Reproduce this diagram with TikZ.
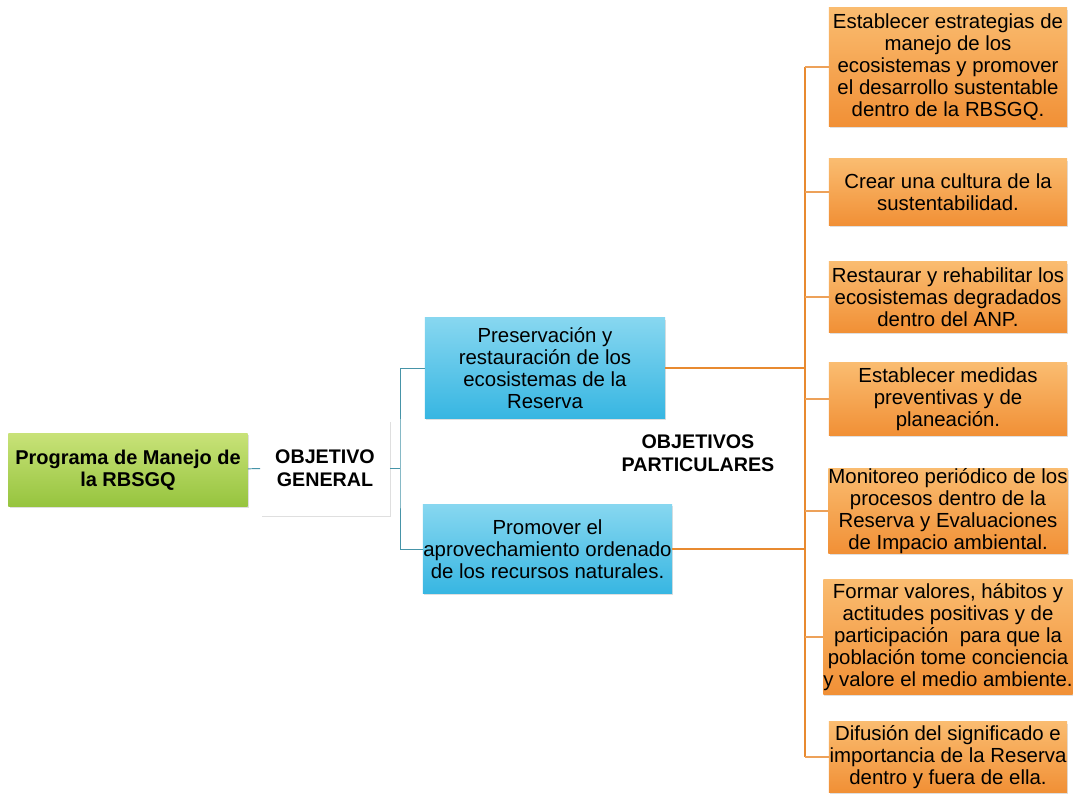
\documentclass[tikz,border=0pt]{standalone}
\usepackage{fontspec}
\setmainfont{Liberation Sans}
\usetikzlibrary{shadows}

\definecolor{verdeclaro}{RGB}{200,226,120}
\definecolor{verdeoscuro}{RGB}{150,196,62}
\definecolor{azulclaro}{RGB}{135,215,240}
\definecolor{azuloscuro}{RGB}{55,182,226}
\definecolor{naranjaclaro}{RGB}{250,188,112}
\definecolor{naranjaoscuro}{RGB}{241,144,54}
\definecolor{lineaazul}{RGB}{70,148,168}
\definecolor{lineanaranja}{RGB}{232,138,48}

\tikzset{
    caja/.style={align=center, inner sep=0pt,
        font=\fontsize{14.5}{15.6}\selectfont,
        drop shadow={opacity=0.25, shadow xshift=0.8pt, shadow yshift=-1.2pt}},
    programa/.style={caja, top color=verdeclaro, bottom color=verdeoscuro,
        minimum width=5.975cm, minimum height=1.825cm,
        font=\fontsize{14.2}{16}\selectfont\bfseries},
    general/.style={caja, fill=white, minimum width=3.225cm, minimum height=2.375cm,
        font=\fontsize{14}{16.4}\selectfont\bfseries},
    objetivo/.style={caja, top color=azulclaro, bottom color=azuloscuro},
    particular/.style={caja, top color=naranjaclaro, bottom color=naranjaoscuro,
        minimum width=5.95cm},
    lineagen/.style={draw=lineaazul, line width=0.7pt},
    lineagruesa/.style={draw=lineanaranja, line width=1.9pt},
    lineabus/.style={draw=lineanaranja, line width=1.4pt},
    linearama/.style={draw=lineanaranja!80, line width=0.8pt}
}

\begin{document}
\begin{tikzpicture}[x=0.025cm, y=-0.025cm]
                \fill[white] (0, 0) rectangle (1073, 795);

                \useasboundingbox (0, 0) rectangle (1073, 795);

                \node[programa] (prog) at (128, 470) {Programa de Manejo de\\la RBSGQ};

                \node[general] (gen) at (325, 468) {OBJETIVO\\GENERAL};

                \node[objetivo, minimum width=6cm, minimum height=2.5cm] (pres) at (545, 368) {Preservación y\\restauración de los\\ecosistemas de la\\Reserva};

                \node[objetivo, minimum width=6.225cm, minimum height=2.225cm] (prom) at (547.5, 549) {Promover el\\aprovechamiento ordenado\\de los recursos naturales.};

                \node[align=center, font=\fontsize{14}{16.4}\selectfont\bfseries] (part) at (698, 453) {OBJETIVOS\\PARTICULARES};

                \node[particular, minimum height=2.95cm] (o1) at (948, 67) {Establecer estrategias de\\manejo de los\\ecosistemas y promover\\el desarrollo sustentable\\dentro de la RBSGQ.};

                \node[particular, minimum height=1.65cm] (o2) at (948, 192) {Crear una cultura de la\\sustentabilidad.};

                \node[particular, minimum height=1.75cm] (o3) at (948, 297) {Restaurar y rehabilitar los\\ecosistemas degradados\\dentro del ANP.};

                \node[particular, minimum height=1.8cm] (o4) at (948, 399) {Establecer medidas\\preventivas y de\\planeación.};

                \node[particular, minimum height=2.1cm] (o5) at (948, 511) {Monitoreo periódico de los\\procesos dentro de la\\Reserva y Evaluaciones\\de Impacio ambiental.};

                \node[particular, minimum height=2.875cm] (o6) at (948, 637) {Formar valores, hábitos y\\actitudes positivas y de\\participación\ \ para que la\\población tome conciencia\\y valore el medio ambiente.};

                \node[particular, minimum height=1.75cm] (o7) at (948, 757) {Difusión del significado e\\importancia de la Reserva\\dentro y fuera de ella.};

                \coordinate (gbus) at (400, 468);

                \coordinate (obus) at (805, 450);

                \draw[lineagen] (prog) -- (gen);

                \draw[lineagen] (gen.east) -- (gbus);

                \draw[lineagen] (pres.west) -| (gbus) |- (prom.west);

                \draw[lineagruesa] (pres.east) -- (obus |- pres.east);

                \draw[lineagruesa] (prom.east) -- (obus |- prom.east);

                \draw[lineabus] (obus |- o1.west) -- (obus |- o7.west);

                \foreach \i in {1,...,7}
                    \draw[linearama] (obus |- o\i.west) -- (o\i.west);
            \end{tikzpicture}
\end{document}
